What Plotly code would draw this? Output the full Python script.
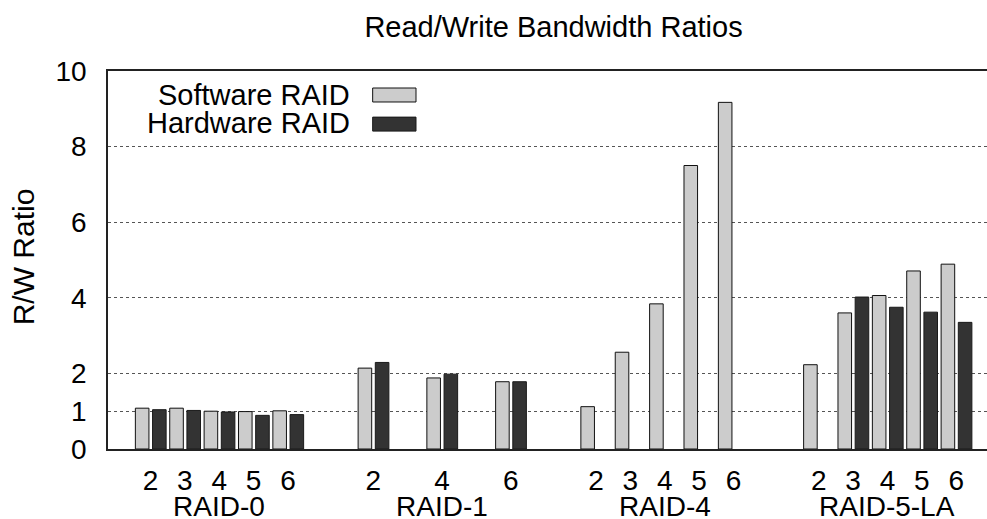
import plotly.graph_objects as go

# ---- data ----
groups = ["RAID-0", "RAID-1", "RAID-4", "RAID-5-LA"]
disks = [[2, 3, 4, 5, 6], [2, 4, 6], [2, 3, 4, 5, 6], [2, 3, 4, 5, 6]]
software = [[1.08, 1.08, 1.00, 0.99, 1.01],
            [2.14, 1.88, 1.78],
            [1.12, 2.56, 3.84, 7.50, 9.17],
            [2.23, 3.60, 4.06, 4.71, 4.89]]
hardware = [[1.04, 1.02, 0.98, 0.89, 0.91],
            [2.29, 1.98, 1.78],
            [None, None, None, None, None],
            [None, 4.02, 3.75, 3.62, 3.35]]
y_ticks = [0, 1, 2, 4, 6, 8, 10]

# ---- layout helpers ----
GROUP_STEP = 6.48
FONT = "Liberation Sans, Arial, sans-serif"
FS = 28

xs, sw, hw, tick_vals, tick_text = [], [], [], [], []
group_centers = []
for gi, (g, ds) in enumerate(zip(groups, disks)):
    base = gi * GROUP_STEP
    for di, d in enumerate(ds):
        x = base + (d - 2)
        xs.append(x)
        sw.append(software[gi][di])
        hw.append(hardware[gi][di])
        tick_vals.append(x)
        tick_text.append(str(d))
    group_centers.append(base + 2)

fig = go.Figure()
fig.add_trace(go.Bar(
    x=xs, y=sw, name="Software RAID", offset=-0.44, width=0.395,
    marker=dict(color="#cccccc", line=dict(color="#111111", width=1)),
    showlegend=False))
fig.add_trace(go.Bar(
    x=xs, y=hw, name="Hardware RAID", offset=0.06, width=0.395,
    marker=dict(color="#333333", line=dict(color="#1a1a1a", width=1)),
    showlegend=False))

# group labels
for g, c in zip(groups, group_centers):
    fig.add_annotation(x=c, xref="x", y=-0.153, yref="paper", text=g,
                       showarrow=False, xanchor="center", yanchor="middle",
                       font=dict(family=FONT, size=FS, color="black"))

# y-axis title
fig.add_annotation(x=-0.0967, xref="paper", y=0.507, yref="paper",
                   text="R/W Ratio", textangle=-90, showarrow=False,
                   xanchor="center", yanchor="middle",
                   font=dict(family=FONT, size=30, color="black"))

# gnuplot-style legend: text then sample box on the right
legend_items = [("Software RAID", "#cccccc", "#111111", 0.9365, 0.955, 0.918),
                ("Hardware RAID", "#333333", "#1a1a1a", 0.8615, 0.878, 0.841)]
for name, fill, edge, ty, y0, y1 in legend_items:
    fig.add_annotation(x=0.2776, xref="paper", y=ty, yref="paper", text=name,
                       showarrow=False, xanchor="right", yanchor="middle",
                       font=dict(family=FONT, size=29, color="black"))
    fig.add_shape(type="rect", xref="paper", yref="paper",
                  x0=0.3011, x1=0.3504, y0=y1, y1=y0,
                  fillcolor=fill, line=dict(color=edge, width=1))

fig.update_layout(
    width=987, height=519,
    margin=dict(l=108, r=0, t=71, b=70),
    paper_bgcolor="white", plot_bgcolor="white",
    barmode="overlay",
    title=dict(text="Read/Write Bandwidth Ratios", x=0.5608, xref="container",
               xanchor="center", y=0.949, yref="container", yanchor="middle",
               font=dict(family=FONT, size=29, color="black")),
    font=dict(family=FONT, size=FS, color="black"),
)
fig.update_xaxes(range=[-1.236, 24.335], tickvals=tick_vals, ticktext=tick_text,
                 showgrid=False, zeroline=False, showline=True, mirror=True,
                 linecolor="#222222", linewidth=1.5, ticks="",
                 ticklabelstandoff=6,
                 tickfont=dict(family=FONT, size=FS, color="black"))
fig.update_yaxes(range=[0, 10], tickvals=y_ticks,
                 showgrid=True, gridcolor="#555555", griddash="dot", gridwidth=1,
                 zeroline=False, showline=True, linecolor="#222222", linewidth=1.5,
                 ticks="", ticklabelstandoff=14,
                 tickfont=dict(family=FONT, size=FS, color="black"))

fig.write_html("out.html")
